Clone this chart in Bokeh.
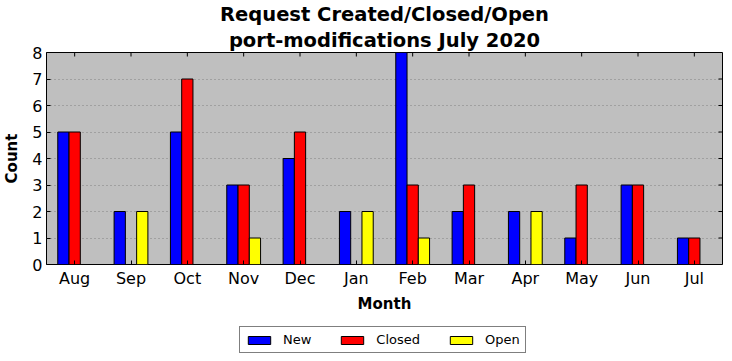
from bokeh.plotting import figure
from bokeh.layouts import column
from bokeh.models import (ColumnDataSource, FixedTicker, Range1d, Title, Legend, LegendItem)
from bokeh.transform import dodge
from bokeh.embed import file_html
from bokeh.resources import INLINE

months = ["Aug", "Sep", "Oct", "Nov", "Dec", "Jan", "Feb", "Mar", "Apr", "May", "Jun", "Jul"]
new_vals = [5, 2, 5, 3, 4, 2, 8, 2, 2, 1, 3, 1]
closed_vals = [5, 0, 7, 3, 5, 0, 3, 3, 0, 3, 3, 1]
open_vals = [0, 2, 0, 1, 0, 2, 1, 0, 2, 0, 0, 0]
series_names = ["New", "Closed", "Open"]
series_colors = ["#0000ff", "#ff0000", "#ffff00"]
y_ticks = [0, 1, 2, 3, 4, 5, 6, 7, 8]

FONT = "DejaVu Sans"
idx = list(range(len(months)))
YMAX = 8
FRAME_H = 212
FRAME_W = 676
tick_len_y = 4 * YMAX / FRAME_H          # 4px in data units (vertical)
tick_len_x = 4 * len(months) / FRAME_W   # 4px in data units (horizontal)

p = figure(frame_width=FRAME_W, frame_height=FRAME_H, output_backend="svg",
           toolbar_location=None, title=None,
           x_range=Range1d(-0.5, len(months) - 0.5), y_range=Range1d(0, YMAX),
           min_border_left=38, min_border_right=2, min_border_top=45, min_border_bottom=0)
p.border_fill_color = "white"
p.background_fill_color = "#bfbfbf"
p.outline_line_color = "black"
p.outline_line_width = 1

src = ColumnDataSource(dict(x=idx, new=new_vals, closed=closed_vals, open=open_vals))
offsets = [-0.2, 0.0, 0.2]
cols = ["new", "closed", "open"]
for name, col, off, colr in zip(series_names, cols, offsets, series_colors):
    p.vbar(x=dodge("x", off), top=col, width=0.2, bottom=0, source=src,
           fill_color=colr, line_color="black", line_width=1)

# grid
p.xgrid.grid_line_color = None
p.ygrid.grid_line_color = "#808080"
p.ygrid.grid_line_dash = "1 3"
p.ygrid.ticker = FixedTicker(ticks=y_ticks)

# axes
xa = p.xaxis[0]
xa.ticker = FixedTicker(ticks=idx)
xa.major_label_overrides = {i: m for i, m in zip(idx, months)}
ya = p.yaxis[0]
ya.ticker = FixedTicker(ticks=y_ticks)
for ax in (xa, ya):
    ax.major_tick_in = 4
    ax.major_tick_out = 0
    ax.minor_tick_in = 0
    ax.minor_tick_out = 0
    ax.minor_tick_line_color = None
    ax.axis_line_color = None
    ax.major_label_text_font = FONT
    ax.major_label_text_font_size = "16px"
    ax.major_label_text_color = "black"
    ax.axis_label_text_font = FONT
    ax.axis_label_text_font_style = "bold"
    ax.axis_label_text_font_size = "15px"
    ax.axis_label_text_color = "black"
xa.axis_label = "Month"
ya.axis_label = "Count"
xa.axis_label_standoff = 4
ya.axis_label_standoff = 8
xa.major_label_standoff = 4
ya.major_label_standoff = 4

# inward ticks on top and right edges (mirror of the bottom/left ticks)
p.segment(x0=idx, x1=idx, y0=[YMAX] * len(idx), y1=[YMAX - tick_len_y] * len(idx),
          line_color="black", line_width=1)
xr = len(months) - 0.5
p.segment(x0=[xr] * len(y_ticks), x1=[xr - tick_len_x] * len(y_ticks), y0=y_ticks, y1=y_ticks,
          line_color="black", line_width=1)

t2 = Title(text="port-modifications July 2020", align="center", text_font=FONT,
           text_font_size="19.5px", text_font_style="bold", text_color="black",
           standoff=2)
t1 = Title(text="Request Created/Closed/Open", align="center", text_font=FONT,
           text_font_size="19.5px", text_font_style="bold", text_color="black",
           standoff=0)
p.add_layout(t2, "above")
p.add_layout(t1, "above")

# legend strip below the chart (same series, drawn out of its visible range)
p2 = figure(width=716, height=41, output_backend="svg", toolbar_location=None, title=None,
            x_axis_type=None, y_axis_type=None, x_range=Range1d(100, 101),
            y_range=Range1d(100, 101), min_border=0)
p2.grid.visible = False
p2.outline_line_color = None
p2.background_fill_color = "white"
p2.border_fill_color = "white"
leg_renderers = []
for col, off, colr in zip(cols, offsets, series_colors):
    r = p2.vbar(x=dodge("x", off), top=col, width=0.2, bottom=0, source=src,
                fill_color=colr, line_color="black", line_width=1)
    leg_renderers.append(r)

legend = Legend(items=[LegendItem(label=n, renderers=[r]) for n, r in zip(series_names, leg_renderers)],
                orientation="horizontal", location=(193, 3))
legend.glyph_width = 28
legend.glyph_height = 10
legend.label_text_font = FONT
legend.label_text_font_size = "13px"
legend.label_text_color = "black"
legend.label_standoff = 10
legend.label_height = 14
legend.spacing = 27
legend.padding = 5
legend.margin = 0
legend.border_line_color = "black"
legend.border_line_width = 1
legend.background_fill_color = "white"
legend.background_fill_alpha = 1
p2.add_layout(legend, "center")

open("out.html", "w").write(file_html(column(p, p2, spacing=0), INLINE))
